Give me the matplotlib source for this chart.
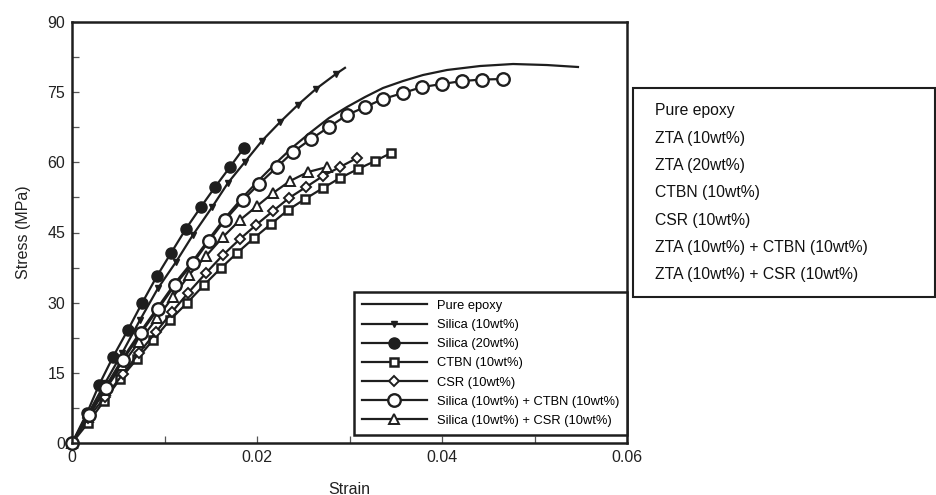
import matplotlib
matplotlib.use("Agg")
import matplotlib.pyplot as plt
from matplotlib.patches import Rectangle
from matplotlib.ticker import MultipleLocator, FuncFormatter

plt.rcParams['font.family'] = ['Liberation Sans', 'DejaVu Sans']

# ---------------- data ----------------
pure_x = [0, 0.00184, 0.00368, 0.00551, 0.00746, 0.00930, 0.01114, 0.01308, 0.01481, 0.01654,
          0.01849, 0.02022, 0.02216, 0.02389, 0.02584, 0.02778, 0.02973, 0.03168, 0.03362,
          0.03578, 0.03795, 0.04054, 0.04411, 0.04768, 0.05135, 0.05470]
pure_y = [0, 6.20, 12.18, 18.17, 23.94, 29.07, 34.20, 38.91, 43.62, 48.10,
          52.59, 56.22, 60.07, 63.28, 66.48, 69.47, 71.83, 73.96, 75.89,
          77.38, 78.67, 79.74, 80.59, 81.02, 80.80, 80.38]

si10_x = [0, 0.00173, 0.00357, 0.00541, 0.00735, 0.00930, 0.01124, 0.01308, 0.01514, 0.01686,
          0.01870, 0.02054, 0.02249, 0.02443, 0.02638, 0.02854, 0.02951]
si10_y = [0, 6.2, 12.8, 19.2, 26.3, 33.1, 38.7, 44.5, 50.4, 55.6,
          60.1, 64.6, 68.6, 72.3, 75.7, 78.9, 80.2]

si20_x = [0, 0.00162, 0.00292, 0.00443, 0.00605, 0.00757, 0.00919, 0.01070, 0.01232, 0.01395,
          0.01546, 0.01708, 0.01859]
si20_y = [0, 6.4, 12.4, 18.4, 24.2, 29.9, 35.7, 40.6, 45.8, 50.5, 54.7, 59.0, 63.1]

ctbn_x = [0, 0.00173, 0.00346, 0.00519, 0.00703, 0.00876, 0.01059, 0.01243, 0.01427, 0.01611,
          0.01784, 0.01968, 0.02151, 0.02335, 0.02519, 0.02714, 0.02897, 0.03092, 0.03276, 0.03449]
ctbn_y = [0, 4.28, 8.98, 13.68, 17.96, 22.02, 26.29, 29.93, 33.78, 37.41,
          40.62, 43.82, 46.81, 49.81, 52.16, 54.51, 56.65, 58.57, 60.28, 61.99]

csr_x = [0, 0.00173, 0.00357, 0.00551, 0.00724, 0.00908, 0.01081, 0.01254, 0.01449, 0.01632,
         0.01816, 0.01989, 0.02173, 0.02346, 0.02530, 0.02714, 0.02897, 0.03081]
csr_y = [0, 5.34, 9.83, 14.75, 19.24, 23.73, 28.00, 32.06, 36.34, 40.19,
         43.61, 46.60, 49.59, 52.37, 54.72, 57.08, 59.00, 60.92]

sictbn_x = [0, 0.00184, 0.00368, 0.00551, 0.00746, 0.00930, 0.01114, 0.01308, 0.01481, 0.01654,
            0.01849, 0.02022, 0.02216, 0.02389, 0.02584, 0.02778, 0.02973, 0.03168, 0.03362,
            0.03578, 0.03784, 0.04000, 0.04216, 0.04432, 0.04659]
sictbn_y = [0, 5.99, 11.76, 17.74, 23.51, 28.64, 33.78, 38.48, 43.18, 47.67,
            51.95, 55.37, 59.00, 62.21, 64.99, 67.55, 70.12, 71.83, 73.54,
            74.82, 76.10, 76.74, 77.38, 77.70, 77.81]

sicsr_x = [0, 0.00173, 0.00357, 0.00541, 0.00724, 0.00919, 0.01092, 0.01265, 0.01449, 0.01632,
           0.01816, 0.02000, 0.02173, 0.02357, 0.02551, 0.02757]
sicsr_y = [0, 5.56, 11.33, 16.67, 21.59, 26.72, 31.21, 35.91, 39.97, 44.04,
           47.67, 50.66, 53.44, 56.01, 57.93, 59.00]

legend_labels = ['Pure epoxy', 'Silica (10wt%)', 'Silica (20wt%)', 'CTBN (10wt%)',
                 'CSR (10wt%)', 'Silica (10wt%) + CTBN (10wt%)', 'Silica (10wt%) + CSR (10wt%)']
box_labels = ['Pure epoxy', 'ZTA (10wt%)', 'ZTA (20wt%)', 'CTBN (10wt%)', 'CSR (10wt%)',
              'ZTA (10wt%) + CTBN (10wt%)', 'ZTA (10wt%) + CSR (10wt%)']

x_ticks_major = [0, 0.02, 0.04, 0.06]
y_ticks_major = [0, 15, 30, 45, 60, 75, 90]

# ---------------- figure ----------------
K = '#1e1e1e'
fig = plt.figure(figsize=(9.36, 4.95), dpi=100)
ax = fig.add_axes([72/936, 52/495, 555/936, 421/495])

common = dict(color=K, lw=1.6, clip_on=False)
ax.plot(pure_x, pure_y, label=legend_labels[0], zorder=2, **common)
ax.plot(si10_x, si10_y, marker='v', ms=5, mfc=K, mec=K,
        markevery=slice(0, len(si10_x) - 1), label=legend_labels[1], zorder=3, **common)
ax.plot(si20_x, si20_y, marker='o', ms=8, mfc=K, mec=K,
        label=legend_labels[2], zorder=3, **common)
ax.plot(ctbn_x, ctbn_y, marker='s', ms=6, mfc='white', mec=K, mew=1.8,
        label=legend_labels[3], zorder=3, **common)
ax.plot(csr_x, csr_y, marker='D', ms=5.5, mfc='white', mec=K, mew=1.4,
        label=legend_labels[4], zorder=3, **common)
ax.plot(sictbn_x, sictbn_y, marker='o', ms=9, mfc='white', mec=K, mew=1.7,
        label=legend_labels[5], zorder=4, **common)
ax.plot(sicsr_x, sicsr_y, marker='^', ms=7, mfc='white', mec=K, mew=1.4,
        label=legend_labels[6], zorder=3, **common)

ax.set_xlim(0, 0.06)
ax.set_ylim(0, 90)
ax.xaxis.set_minor_locator(MultipleLocator(0.01))
ax.yaxis.set_minor_locator(MultipleLocator(7.5))
ax.set_xticks(x_ticks_major)
ax.set_yticks(y_ticks_major)
ax.xaxis.set_major_formatter(FuncFormatter(lambda v, p: '0' if v == 0 else f'{v:g}'))
ax.tick_params(which='both', direction='in', length=5, width=0.9, color='#555555',
               labelsize=11.5, labelcolor='#222222', top=False, right=False, pad=5)
for s in ax.spines.values():
    s.set_linewidth(1.8)
    s.set_color(K)
    s.set_zorder(5)

ax.set_xlabel('Strain', fontsize=11.5, color='#222222', labelpad=12)
ax.set_ylabel('Stress (MPa)', fontsize=11.5, color='#222222', labelpad=12)

leg = ax.legend(loc='lower right', bbox_to_anchor=(1.0, 0.02), fontsize=9.3,
                handlelength=5.0, handletextpad=0.8, labelspacing=0.55,
                borderpad=0.6, borderaxespad=0.0, frameon=True, fancybox=False,
                edgecolor=K, framealpha=1)
leg.get_frame().set_linewidth(1.8)
leg.set_zorder(10)

# ---------------- right text box ----------------
fig.patches.append(Rectangle((633/936, 198/495), 302/936, 209/495, transform=fig.transFigure,
                             fill=False, edgecolor=K, linewidth=1.5))
for i, t in enumerate(box_labels):
    fig.text(655/936, 1 - (111 + i * 27.3)/495, t, fontsize=11.3, color='#111111',
             ha='left', va='center')

fig.savefig('out.png', dpi=100)
